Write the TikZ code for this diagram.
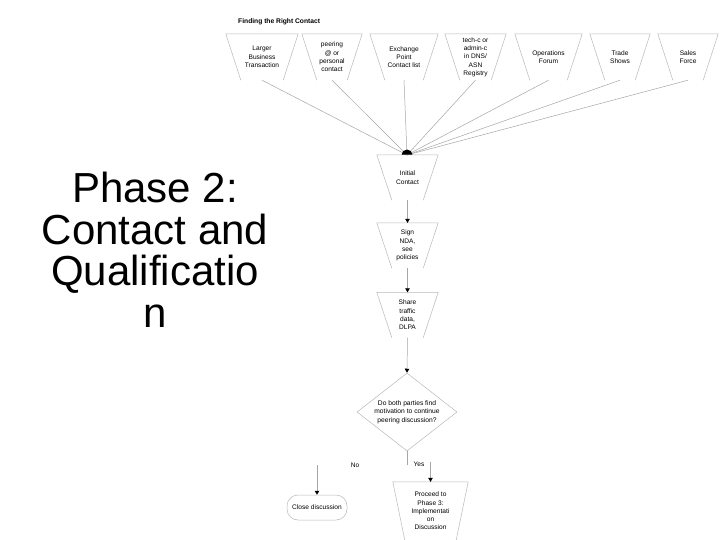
\documentclass[tikz,border=0pt]{standalone}
\usepackage{fontspec}
\setmainfont{Liberation Sans}
\usetikzlibrary{calc,shapes.geometric,arrows.meta}
\newcommand\trapedges[2]{\draw[edge] ($(#1.south west)+(#2,0)$) -- (#1.north west) -- (#1.north east) -- ($(#1.south east)+(-#2,0)$);}
\begin{document}
\begin{tikzpicture}[x=1pt,y=-1pt,
  lbl/.style={font=\fontsize{6.6}{8.3}\selectfont, align=center, inner sep=0pt},
  tbox/.style={lbl, minimum height=46pt},
  edge/.style={draw=gray!55, line width=0.5pt},
  conn/.style={draw=gray!70, line width=0.5pt},
  arr/.style={conn, -{Triangle[length=4pt,width=4.5pt,color=black]}},
]
\useasboundingbox (0,0) rectangle (720,540);
\fill[white] (0,0) rectangle (720,540);

\node[font=\bfseries\fontsize{6.7}{8}\selectfont, anchor=west, inner sep=0pt] (title) at (238,22) {Finding the Right Contact};

\node[tbox, minimum width=72pt] (b1) at (262,57) {Larger\\Business\\Transaction};
\node[tbox, minimum width=60pt] (b2) at (332,57) {peering\\@ or\\personal\\contact};
\node[tbox, minimum width=68pt] (b3) at (404,57) {Exchange\\Point\\Contact list};
\node[tbox, minimum width=61pt] (b4) at (475.5,57) {tech-c or\\admin-c\\in DNS/\\ASN\\Registry};
\node[tbox, minimum width=67pt] (b5) at (548.5,57) {Operations\\Forum};
\node[tbox, minimum width=60pt] (b6) at (620,57) {Trade\\Shows};
\node[tbox, minimum width=60pt] (b7) at (688,57) {Sales\\Force};
\foreach \b in {b1,b2,b3,b4,b5,b6,b7}{\trapedges{\b}{15}}

\coordinate (dot) at (407,155);
\foreach \b in {b1,b2,b3,b4,b5,b6,b7}{\draw[conn] (\b.south) -- (dot);}
\fill (dot) ++(-5.5,0) arc[start angle=180, end angle=360, radius=5.5] -- cycle;

\node[tbox, minimum width=61pt, minimum height=45pt] (init) at (407.5,177.5) {Initial\\Contact};
\node[tbox, minimum width=61pt, minimum height=45pt] (sign) at (407.5,245.5) {Sign\\NDA,\\see\\policies};
\node[tbox, minimum width=61pt, minimum height=45pt] (share) at (407.5,315) {Share\\traffic\\data,\\DLPA};
\foreach \b in {init,sign,share}{\trapedges{\b}{15}}
\draw[arr] (init.south) -- (sign.north);
\draw[arr] (sign.south) -- (share.north);

\node[diamond, draw=gray!55, line width=0.5pt, align=center, inner sep=0pt, minimum width=100pt, minimum height=78pt, aspect=1.28, font=\fontsize{6.7}{8.6}\selectfont] (q) at (407,412) {Do both parties find\\motivation to continue\\peering discussion?};
\draw[arr] (share.south) -- (q.north);

\coordinate (qy) at (407,465);
\draw[conn] (q.south) -- (qy);
\node[lbl] (no) at (355,465) {No};
\node[lbl] (yes) at (419,464) {Yes};

\coordinate (ns) at (317,465);
\node[lbl, draw=gray!55, line width=0.5pt, rounded corners=11pt, minimum width=60pt, minimum height=25pt] (close) at (317,507.5) {Close discussion};
\draw[arr] (ns) -- (close.north);

\coordinate (ys) at (430.5,462);
\node[lbl, minimum width=75pt, minimum height=58pt] (proc) at (430.5,511) {Proceed to\\Phase 3:\\Implementati\\on\\Discussion};
\trapedges{proc}{12}
\draw[arr] (ys) -- (proc.north);

\node[font=\fontsize{42}{41.5}\selectfont, align=center, inner sep=0pt] (phase) at (155,250) {Phase 2:\\Contact and\\Qualificatio\\n};
\end{tikzpicture}
\end{document}
